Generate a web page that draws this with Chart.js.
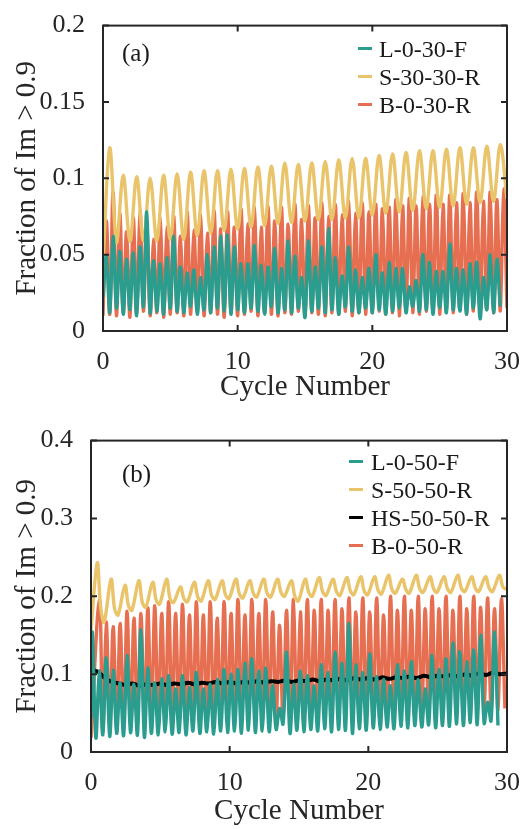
<!DOCTYPE html>
<html>
<head>
<meta charset="utf-8">
<script src="https://cdn.jsdelivr.net/npm/chart.js@4.4.1/dist/chart.umd.min.js"></script>
<style>
  html, body { margin: 0; padding: 0; background: #fff; }
  #page { position: relative; width: 529px; height: 829px; overflow: hidden;
          font-family: "Liberation Serif", "Times New Roman", serif; color: #1a1a1a; }
  .panel { position: absolute; left: 0; }
  .legend-row { position: absolute; height: 28px; line-height: 28px; font-size: 24px; white-space: nowrap; }
  .legend-mark { position: absolute; left: 0; top: 12px; width: 14px; height: 3px; }
  .tag { position: absolute; font-size: 25px; line-height: 28px; }
</style>
</head>
<body>
<div id="page">
  <div class="panel" style="top:0"><canvas id="chartA" width="529" height="415"></canvas></div>
  <div class="panel" style="top:415px"><canvas id="chartB" width="529" height="414"></canvas></div>
</div>
<script>
// Colours and names
const teal = "#2A9D8F", yellow = "#E9C46A", red = "#E76F51", black = "#000000";
const namesA = ["L-0-30-F", "S-30-30-R", "B-0-30-R"];
const namesB = ["L-0-50-F", "S-50-50-R", "HS-50-50-R", "B-0-50-R"];
const xTicks = [0, 10, 20, 30];

// Panel (a) - L-0-30-F: peaks at n+0.25 / n+0.75, troughs at n+0.5 / n+1
const tealA_peaks = [
  0.049, 0.062, 0.052, 0.047, 0.051, 0.055, 0.078, 0.046, 0.044, 0.048,
  0.062, 0.042, 0.038, 0.040, 0.035, 0.050, 0.055, 0.062, 0.063, 0.055,
  0.044, 0.044, 0.056, 0.043, 0.042, 0.054, 0.041, 0.059, 0.049, 0.035,
  0.059, 0.042, 0.055, 0.067, 0.048, 0.036, 0.055, 0.040, 0.035, 0.041,
  0.050, 0.038, 0.045, 0.041, 0.041, 0.029, 0.033, 0.050, 0.045, 0.039,
  0.039, 0.057, 0.041, 0.040, 0.044, 0.045, 0.035, 0.050, 0.047
];
const tealA_troughs = [
  0.012, 0.015, 0.011, 0.014, 0.010, 0.016, 0.012, 0.013, 0.011, 0.015,
  0.013, 0.012, 0.016, 0.011, 0.014, 0.012, 0.015, 0.013, 0.011, 0.014,
  0.012, 0.015, 0.013, 0.011, 0.016, 0.012, 0.014, 0.012, 0.015, 0.009,
  0.013, 0.015, 0.012, 0.014, 0.011, 0.016, 0.013, 0.012, 0.015, 0.012,
  0.014, 0.011, 0.013, 0.015, 0.012, 0.016, 0.013, 0.014, 0.011, 0.015,
  0.012, 0.014, 0.013, 0.011, 0.015, 0.008, 0.014, 0.012, 0.016
];
// S-30-30-R: one peak per cycle (n+0.5), trough at n+1
const yellowA_peaks = [
  0.120, 0.102, 0.101, 0.100, 0.102, 0.103, 0.104, 0.105, 0.105, 0.106,
  0.1065, 0.1075, 0.108, 0.110, 0.109, 0.110, 0.111, 0.112, 0.113, 0.113,
  0.115, 0.116, 0.117, 0.118, 0.118, 0.119, 0.120, 0.120, 0.121, 0.122
];
const yellowA_troughs = [
  0.058, 0.0585, 0.059, 0.059, 0.060, 0.060, 0.0625, 0.064, 0.066, 0.0667,
  0.068, 0.069, 0.0705, 0.071, 0.072, 0.073, 0.073, 0.074, 0.074, 0.076,
  0.077, 0.078, 0.079, 0.080, 0.081, 0.082, 0.083, 0.084, 0.085, 0.0865
];
// B-0-30-R
const redA_peaks = [
  0.072, 0.091, 0.077, 0.065, 0.074, 0.079, 0.071, 0.060, 0.074, 0.068,
  0.075, 0.062, 0.078, 0.066, 0.076, 0.064, 0.079, 0.067, 0.078, 0.068,
  0.080, 0.070, 0.081, 0.068, 0.082, 0.072, 0.081, 0.070, 0.083, 0.073,
  0.082, 0.074, 0.084, 0.075, 0.083, 0.076, 0.085, 0.077, 0.084, 0.078,
  0.083, 0.080, 0.081, 0.086, 0.082, 0.087, 0.082, 0.088, 0.083, 0.089,
  0.083, 0.089, 0.084, 0.090, 0.084, 0.091, 0.085, 0.091, 0.086, 0.093
];
const redA_troughs = [
  0.011, 0.010, 0.012, 0.009, 0.011, 0.013, 0.010, 0.012, 0.009, 0.011,
  0.012, 0.010, 0.011, 0.013, 0.010, 0.012, 0.011, 0.009, 0.012, 0.010,
  0.011, 0.013, 0.010, 0.012, 0.011, 0.010, 0.012, 0.011, 0.013, 0.010,
  0.012, 0.011, 0.010, 0.012, 0.011, 0.013, 0.010, 0.012, 0.011, 0.012,
  0.013, 0.011, 0.012, 0.010, 0.013, 0.012, 0.011, 0.013, 0.012, 0.011,
  0.013, 0.012, 0.014, 0.011, 0.013, 0.012, 0.014, 0.012, 0.013, 0.015
];

// Panel (b) - L-0-50-F: peaks at n+0.1 / n+0.6
const tealB_peaks = [
  0.154, 0.104, 0.121, 0.105, 0.089, 0.124, 0.087, 0.157, 0.108, 0.089,
  0.094, 0.098, 0.081, 0.098, 0.083, 0.102, 0.081, 0.087, 0.093, 0.106,
  0.100, 0.106, 0.114, 0.120, 0.104, 0.108, 0.085, 0.056, 0.128, 0.087,
  0.104, 0.098, 0.085, 0.112, 0.102, 0.128, 0.114, 0.165,
  0.112, 0.102, 0.126, 0.097, 0.093, 0.085, 0.112, 0.104, 0.116, 0.093,
  0.081, 0.124, 0.106, 0.120, 0.140, 0.129, 0.116, 0.131, 0.150, 0.064, 0.154
];
const tealB_troughs = [
  0.018, 0.022, 0.020, 0.024, 0.021, 0.025, 0.022, 0.019, 0.024, 0.022,
  0.026, 0.023, 0.025, 0.022, 0.027, 0.024, 0.026, 0.023, 0.027, 0.025,
  0.027, 0.024, 0.028, 0.025, 0.027, 0.026, 0.029, 0.036, 0.024, 0.028,
  0.026, 0.029, 0.027, 0.030, 0.026, 0.029, 0.028, 0.024,
  0.030, 0.028, 0.031, 0.029, 0.032, 0.030, 0.033, 0.031, 0.034, 0.032,
  0.035, 0.031, 0.034, 0.033, 0.036, 0.034, 0.038, 0.035, 0.037, 0.040, 0.034
];
// S-50-50-R: peak (n+0.45), shoulder (n+0.7), trough (n+0.95)
const yellowB_peaks = [
  0.243, 0.222, 0.214, 0.220, 0.218, 0.222, 0.212, 0.218, 0.220, 0.220,
  0.222, 0.220, 0.222, 0.222, 0.220, 0.222, 0.224, 0.222, 0.224, 0.225,
  0.225, 0.227, 0.222, 0.227, 0.225, 0.225, 0.227, 0.225, 0.225, 0.227
];
const yellowB_mids = [
  0.185, 0.184, 0.188, 0.192, 0.195, 0.197, 0.197, 0.199, 0.201, 0.202,
  0.203, 0.204, 0.204, 0.205, 0.200, 0.205, 0.206, 0.206, 0.207, 0.207,
  0.208, 0.209, 0.209, 0.210, 0.210, 0.210, 0.211, 0.211, 0.211, 0.212
];
const yellowB_troughs = [
  0.167, 0.176, 0.182, 0.186, 0.190, 0.192, 0.193, 0.194, 0.196, 0.197,
  0.198, 0.199, 0.199, 0.200, 0.194, 0.200, 0.201, 0.201, 0.202, 0.202,
  0.203, 0.204, 0.204, 0.205, 0.205, 0.205, 0.206, 0.206, 0.206, 0.209
];
// HS-50-50-R, every half cycle
const blackB = [
  0.106, 0.103, 0.095, 0.090, 0.088, 0.086, 0.088, 0.085, 0.087, 0.086,
  0.088, 0.086, 0.088, 0.087, 0.089, 0.087, 0.089, 0.088, 0.090, 0.088,
  0.090, 0.088, 0.090, 0.089, 0.091, 0.089, 0.091, 0.090, 0.092, 0.090,
  0.092, 0.091, 0.093, 0.091, 0.093, 0.092, 0.094, 0.092, 0.095, 0.093,
  0.095, 0.093, 0.096, 0.094, 0.096, 0.095, 0.097, 0.095, 0.098, 0.096,
  0.098, 0.097, 0.099, 0.097, 0.100, 0.098, 0.101, 0.099, 0.102, 0.100, 0.101
];
// B-0-50-R: peaks at n+0.6 / n+0.1
const redB_peaks = [
  0.195, 0.167, 0.161, 0.165, 0.181, 0.172, 0.178, 0.185, 0.188, 0.178,
  0.193, 0.178, 0.190, 0.176, 0.193, 0.176, 0.193, 0.172, 0.193,
  0.178, 0.196, 0.176, 0.196, 0.178, 0.196, 0.180, 0.163, 0.182, 0.196,
  0.180, 0.196, 0.182, 0.196, 0.182, 0.196, 0.184, 0.198, 0.180, 0.198,
  0.180, 0.198, 0.176, 0.200, 0.182, 0.200, 0.182, 0.200, 0.184, 0.200,
  0.184, 0.200, 0.182, 0.200, 0.184, 0.200, 0.186, 0.198, 0.184, 0.197
];
const redB_troughs = [
  0.026, 0.030, 0.032, 0.034, 0.033, 0.035, 0.034, 0.036, 0.035, 0.037,
  0.036, 0.038, 0.037, 0.038, 0.037, 0.039, 0.038, 0.040, 0.038, 0.040,
  0.039, 0.041, 0.040, 0.041, 0.040, 0.042, 0.041, 0.042, 0.036, 0.042,
  0.043, 0.042, 0.044, 0.043, 0.044, 0.043, 0.045, 0.044, 0.046, 0.045,
  0.046, 0.045, 0.047, 0.046, 0.048, 0.047, 0.048, 0.047, 0.049, 0.048,
  0.050, 0.049, 0.051, 0.050, 0.052, 0.051, 0.053, 0.054, 0.056
];

// Builds {x,y} points: optional start point, then blocks repeated every period
function wave(start, x0, period, parts) {
  const pts = start ? [{ x: start[0], y: start[1] }] : [];
  const n = Math.max(...parts.map(p => p[1].length));
  for (let i = 0; i < n; i++) {
    parts.forEach(([off, vals]) => {
      if (i < vals.length) pts.push({ x: x0 + i * period + off, y: vals[i] });
    });
  }
  return pts;
}

function line(label, color, data, width) {
  return { label, data, borderColor: color, backgroundColor: color, borderWidth: width || 3.4,
           pointRadius: 0, tension: 0.35, fill: false, clip: 0 };
}

// Frame with inward ticks, MATLAB style
const boxTicks = {
  id: "boxTicks",
  afterDatasetsDraw(chart) {
    const { ctx, chartArea: a, scales: { x, y } } = chart;
    ctx.save();
    ctx.strokeStyle = "#262626";
    ctx.lineWidth = 2;
    ctx.beginPath();
    x.ticks.forEach(t => {
      const px = x.getPixelForValue(t.value);
      ctx.moveTo(px, a.bottom); ctx.lineTo(px, a.bottom - 6);
      ctx.moveTo(px, a.top); ctx.lineTo(px, a.top + 6);
    });
    y.ticks.forEach(t => {
      const py = y.getPixelForValue(t.value);
      ctx.moveTo(a.left, py); ctx.lineTo(a.left + 6, py);
      ctx.moveTo(a.right, py); ctx.lineTo(a.right - 6, py);
    });
    ctx.stroke();
    ctx.strokeRect(a.left, a.top, a.right - a.left, a.bottom - a.top);
    ctx.restore();
  }
};

function makeChart(id, datasets, yMax, yStep, yWidth, xHeight, padTop, titlePad) {
  const font = { family: "'Liberation Serif', 'Times New Roman', serif" };
  return new Chart(document.getElementById(id), {
    type: "line",
    data: { datasets },
    options: {
      responsive: false,
      devicePixelRatio: 1,
      animation: false,
      events: [],
      layout: { padding: { top: padTop, right: 22, left: 0, bottom: 0 } },
      plugins: { legend: { display: false }, tooltip: { enabled: false } },
      scales: {
        x: {
          type: "linear", min: xTicks[0], max: xTicks[xTicks.length - 1],
          afterBuildTicks: s => { s.ticks = xTicks.map(v => ({ value: v })); },
          ticks: { font: { ...font, size: 26 }, color: "#262626", padding: 8, maxRotation: 0 },
          grid: { display: false }, border: { display: false },
          title: { display: true, text: "Cycle Number", color: "#262626",
                   font: { ...font, size: 29 }, padding: { top: 0, bottom: titlePad } },
          afterFit: s => { s.height = xHeight; }
        },
        y: {
          min: 0, max: yMax,
          ticks: { stepSize: yStep, font: { ...font, size: 26 }, color: "#262626", padding: 10,
                   callback: v => String(Number(v.toFixed(3))) },
          grid: { display: false }, border: { display: false },
          title: { display: true, text: "Fraction of Im > 0.9", color: "#262626",
                   font: { ...font, size: 29 }, padding: { top: 10, bottom: 0 } },
          afterFit: s => { s.width = yWidth; }
        }
      }
    },
    plugins: [boxTicks]
  });
}

// Panel (a)
makeChart("chartA", [
  line(namesA[0], teal, wave([0, 0.022], 0.25, 0.5, [[0, tealA_peaks], [0.25, tealA_troughs]])),
  line(namesA[1], yellow, wave([0, 0.045], 0.5, 1, [[0, yellowA_peaks], [0.5, yellowA_troughs]])),
  line(namesA[2], red, wave([0, 0.010], 0.25, 0.5, [[0, redA_peaks], [0.25, redA_troughs]]))
], 0.2, 0.05, 103, 84, 13, 10);

// Panel (b)
makeChart("chartB", [
  line(namesB[0], teal, wave([0, 0.043], 0.1, 0.5, [[0, tealB_peaks], [0.25, tealB_troughs]])),
  line(namesB[1], yellow, wave([0, 0.157], 0.45, 1, [[0, yellowB_peaks], [0.25, yellowB_mids], [0.5, yellowB_troughs]])),
  line(namesB[2], black, wave(null, 0, 0.5, [[0, blackB]]), 4),
  line(namesB[3], red, wave([0, 0.018], 0.6, 0.5, [[0, redB_peaks], [0.25, redB_troughs]]))
], 0.4, 0.1, 91, 77, 21, 0);

// Legends and panel tags as text over the canvases
function addLegend(markX, textX, firstY, names, colors) {
  const page = document.getElementById("page");
  names.forEach((name, i) => {
    const row = document.createElement("div");
    row.className = "legend-row";
    row.style.left = markX + "px";
    row.style.top = (firstY + i * 28 - 14) + "px";
    row.innerHTML = `<span class="legend-mark" style="background:${colors[i]}"></span>` +
                    `<span style="padding-left:${textX - markX}px">${name}</span>`;
    page.appendChild(row);
  });
}
function addTag(text, x, yCenter) {
  const tag = document.createElement("div");
  tag.className = "tag";
  tag.textContent = text;
  tag.style.left = x + "px";
  tag.style.top = (yCenter - 14) + "px";
  document.getElementById("page").appendChild(tag);
}

addLegend(358, 379, 49, namesA, [teal, yellow, red]);
addLegend(349, 371, 462, namesB, [teal, yellow, black, red]);
addTag("(a)", 122, 53);
addTag("(b)", 122, 474);
</script>
</body>
</html>
